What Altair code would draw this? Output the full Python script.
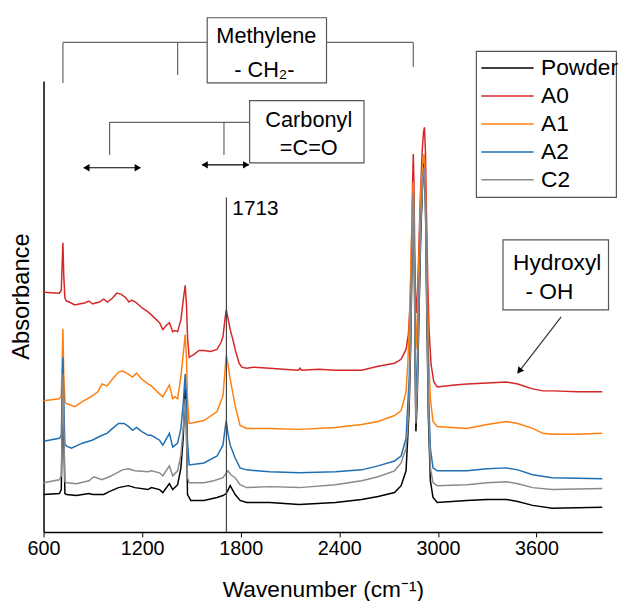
import altair as alt
import pandas as pd

FONT = "Liberation Sans"

SERIES = ["Powder", "A0", "A1", "A2", "C2"]
COLORS = ["#000000", "#d62728", "#ff7f0e", "#1f6fb4", "#8a8a8a"]

# ---- spectra (wavenumber cm-1, absorbance in arbitrary offset units) ----
WN_A0 = [600, 696, 708, 713, 718, 723, 730, 740, 756, 790, 816, 850, 876, 900, 916, 940, 966, 990,
         1020, 1046, 1070, 1096, 1120, 1136, 1160, 1180, 1200, 1236, 1256, 1306, 1326, 1345, 1366,
         1386, 1400, 1416, 1436, 1450, 1462, 1470, 1476, 1486, 1516, 1546, 1576, 1616, 1656, 1680,
         1692, 1705, 1712, 1722, 1736, 1752, 1766, 1790, 1806, 1836, 1876, 1976, 2060, 2150, 2160,
         2170, 2276, 2376, 2536, 2636, 2736, 2776, 2806, 2820, 2832, 2840, 2846, 2850, 2854, 2858,
         2863, 2868, 2874, 2882, 2892, 2904, 2912, 2918, 2924, 2930, 2938, 2946, 2958, 2975, 2996,
         3100, 3176, 3300, 3416, 3486, 3540, 3576, 3640, 3696, 3850, 4000]
ABS_A0 = [2.43, 2.42, 2.45, 2.70, 2.93, 2.60, 2.37, 2.34, 2.33, 2.30, 2.31, 2.32, 2.34, 2.31, 2.32, 2.33, 2.36, 2.33,
          2.37, 2.42, 2.41, 2.38, 2.33, 2.35, 2.33, 2.30, 2.27, 2.23, 2.20, 2.12, 2.05, 2.09, 2.12,
          2.03, 2.04, 2.03, 2.15, 2.35, 2.50, 2.30, 1.98, 1.77, 1.80, 1.84, 1.84, 1.83, 1.85, 1.92,
          1.98, 2.17, 2.25, 2.17, 2.05, 1.95, 1.85, 1.71, 1.67, 1.66, 1.67, 1.66, 1.65, 1.64, 1.66,
          1.64, 1.65, 1.64, 1.64, 1.68, 1.71, 1.75, 1.85, 2.00, 2.35, 2.95, 3.55, 3.83, 3.55, 2.95,
          2.45, 2.22, 2.35, 2.75, 3.35, 3.85, 4.05, 4.10, 3.85, 3.25, 2.55, 2.05, 1.70, 1.52, 1.47,
          1.49, 1.50, 1.51, 1.52, 1.50, 1.47, 1.45, 1.43, 1.43, 1.42, 1.42]

WN_A1 = [600, 696, 708, 713, 718, 723, 730, 740, 790, 836, 866, 896, 930, 956, 986, 1020, 1056, 1080,
         1116, 1142, 1166, 1196, 1236, 1256, 1306, 1326, 1366, 1386, 1400, 1416, 1436, 1450, 1462,
         1470, 1476, 1486, 1516, 1576, 1656, 1692, 1705, 1712, 1722, 1736, 1766, 1796, 1836, 1976,
         2156, 2376, 2536, 2636, 2736, 2776, 2806, 2816, 2825, 2835, 2843, 2850, 2855, 2860, 2866,
         2874, 2884, 2896, 2908, 2916, 2924, 2932, 2942, 2954, 2970, 2996, 3176, 3300, 3416, 3486,
         3576, 3640, 3696, 3850, 4000]
ABS_A1 = [1.33, 1.35, 1.38, 1.70, 2.06, 1.60, 1.32, 1.30, 1.27, 1.32, 1.35, 1.38, 1.42, 1.50, 1.48, 1.55, 1.62, 1.63,
          1.60, 1.57, 1.61, 1.55, 1.50, 1.48, 1.40, 1.37, 1.49, 1.35, 1.37, 1.35, 1.58, 1.80, 2.00,
          1.75, 1.35, 1.10, 1.11, 1.13, 1.22, 1.38, 1.65, 1.79, 1.70, 1.55, 1.28, 1.08, 1.05, 1.05,
          1.04, 1.06, 1.09, 1.12, 1.18, 1.23, 1.42, 1.68, 2.05, 2.65, 3.25, 3.55, 3.15, 2.35, 1.85,
          2.15, 2.75, 3.45, 3.75, 3.83, 3.55, 2.75, 1.85, 1.35, 1.12, 1.07, 1.05, 1.09, 1.12, 1.10,
          1.05, 1.00, 0.99, 0.99, 1.00]

WN_A2 = [600, 696, 708, 713, 718, 723, 730, 740, 770, 836, 896, 956, 986, 1020, 1056, 1090, 1116, 1142,
         1166, 1196, 1236, 1256, 1306, 1326, 1366, 1386, 1416, 1436, 1450, 1462, 1470, 1476, 1486,
         1576, 1656, 1692, 1705, 1712, 1722, 1736, 1766, 1796, 1836, 1976, 2156, 2376, 2536, 2636,
         2736, 2776, 2806, 2816, 2825, 2835, 2843, 2850, 2856, 2861, 2866, 2874, 2884, 2896, 2908,
         2916, 2924, 2932, 2942, 2954, 2970, 2996, 3176, 3300, 3416, 3486, 3576, 3696, 4000]
ABS_A2 = [0.92, 0.95, 0.98, 1.35, 1.77, 1.30, 0.89, 0.87, 0.85, 0.90, 0.93, 0.98, 1.00, 1.05, 1.10, 1.10, 1.07, 1.03,
          1.06, 1.02, 0.98, 0.98, 0.93, 0.88, 1.00, 0.86, 0.90, 1.05, 1.30, 1.60, 1.35, 0.92, 0.68,
          0.70, 0.77, 0.88, 1.05, 1.13, 1.00, 0.88, 0.75, 0.65, 0.63, 0.61, 0.60, 0.61, 0.63, 0.67,
          0.72, 0.77, 0.95, 1.28, 1.55, 2.15, 2.95, 3.40, 2.85, 2.05, 1.35, 1.65, 2.35, 3.15, 3.55,
          3.65, 3.35, 2.45, 1.45, 0.85, 0.65, 0.62, 0.62, 0.64, 0.65, 0.63, 0.58, 0.55, 0.54]

WN_C2 = [600, 696, 708, 713, 718, 723, 730, 740, 800, 876, 906, 956, 1000, 1036, 1080, 1116, 1156, 1236,
         1256, 1306, 1326, 1366, 1386, 1416, 1436, 1450, 1462, 1470, 1476, 1486, 1576, 1636, 1692,
         1722, 1740, 1766, 1796, 1836, 1976, 2156, 2376, 2536, 2636, 2736, 2776, 2806, 2816, 2825,
         2835, 2843, 2850, 2856, 2861, 2866, 2874, 2884, 2896, 2908, 2916, 2924, 2932, 2942, 2954,
         2970, 2996, 3176, 3300, 3416, 3486, 3576, 3696, 4000]
ABS_C2 = [0.50, 0.53, 0.57, 1.05, 1.60, 1.10, 0.51, 0.50, 0.49, 0.52, 0.56, 0.53, 0.56, 0.59, 0.63, 0.64, 0.62, 0.61,
          0.62, 0.60, 0.57, 0.67, 0.57, 0.62, 0.78, 1.05, 1.35, 0.95, 0.55, 0.50, 0.50, 0.52, 0.55,
          0.62, 0.58, 0.55, 0.48, 0.45, 0.46, 0.45, 0.48, 0.52, 0.56, 0.62, 0.70, 0.85, 1.05, 1.35,
          2.05, 2.85, 3.45, 2.85, 1.85, 1.10, 1.45, 2.25, 3.15, 3.60, 3.70, 3.35, 2.35, 1.25, 0.65,
          0.50, 0.47, 0.48, 0.50, 0.51, 0.49, 0.45, 0.43, 0.44]

WN_PW = [600, 696, 708, 713, 718, 723, 730, 740, 800, 876, 900, 966, 1000, 1056, 1116, 1156, 1236, 1256,
         1306, 1326, 1366, 1386, 1416, 1436, 1450, 1462, 1470, 1476, 1496, 1576, 1656, 1692, 1712,
         1736, 1766, 1796, 1836, 1976, 2156, 2376, 2536, 2636, 2736, 2776, 2806, 2816, 2825, 2835,
         2843, 2850, 2856, 2861, 2866, 2874, 2884, 2896, 2908, 2916, 2924, 2932, 2942, 2954, 2970,
         2996, 3176, 3300, 3416, 3486, 3576, 3696, 4000]
ABS_PW = [0.38, 0.39, 0.43, 0.95, 1.73, 1.05, 0.39, 0.38, 0.37, 0.39, 0.38, 0.38, 0.41, 0.45, 0.47, 0.45, 0.43, 0.45,
          0.43, 0.40, 0.49, 0.43, 0.48, 0.65, 0.95, 1.45, 1.05, 0.38, 0.32, 0.32, 0.35, 0.37, 0.39,
          0.47, 0.38, 0.32, 0.30, 0.30, 0.28, 0.30, 0.33, 0.36, 0.40, 0.47, 0.62, 0.95, 1.25, 1.95,
          2.85, 3.50, 2.85, 1.75, 1.02, 1.35, 2.15, 3.05, 3.60, 3.75, 3.35, 2.25, 1.15, 0.52, 0.35,
          0.30, 0.32, 0.33, 0.33, 0.31, 0.27, 0.24, 0.25]

X_TICKS = [600, 1200, 1800, 2400, 3000, 3600]
X_TITLE = "Wavenumber (cm\u207b\u00b9)"
Y_TITLE = "Absorbance"

# ---- annotations (data coordinates) ----
SEG_X1 = [718, 2322, 718, 1416, 2850, 1002, 1002, 1698, 1713, 846, 1566, 3750]
SEG_X2 = [1596, 2850, 718, 1416, 2850, 1854, 1002, 1698, 1713, 1188, 1848, 3486]
SEG_Y1 = [4.96, 4.96, 4.96, 4.96, 4.96, 4.15, 4.15, 4.15, 3.39, 3.69, 3.72, 2.18]
SEG_Y2 = [4.96, 4.96, 4.55, 4.63, 4.71, 4.15, 3.82, 3.82, 0.00, 3.69, 3.72, 1.61]
SEG_C = ["#666666"] * 8 + ["#444444", "#000000", "#000000", "#333333"]

# boxes: Methylene, Carbonyl, Hydroxyl, legend frame
BOX_X1 = [1596, 1854, 3396, 3234]
BOX_X2 = [2322, 2550, 4038, 4086]
BOX_Y1 = [4.55, 3.74, 2.25, 3.39]
BOX_Y2 = [5.21, 4.37, 2.96, 4.87]

TXT = ["Methylene", "- CH\u2082-", "Carbonyl", "=C=O", "Hydroxyl", "- OH"]
TXT_X = [1956, 1944, 2214, 2214, 3726, 3678]
TXT_Y = [5.02, 4.68, 4.17, 3.89, 2.72, 2.43]
TXT_S = [22, 22, 22, 22, 23, 23]

HEAD_X = [867, 1167, 1587, 1827, 3499]
HEAD_Y = [3.69, 3.69, 3.72, 3.72, 1.64]
HEAD_A = [270, 90, 270, 90, 218]

rows = []
for name, wn, ab in [("Powder", WN_PW, ABS_PW), ("A0", WN_A0, ABS_A0), ("A1", WN_A1, ABS_A1),
                     ("A2", WN_A2, ABS_A2), ("C2", WN_C2, ABS_C2)]:
    for w, a in zip(wn, ab):
        rows.append({"series": name, "wn": w, "abs": a})
spec = pd.DataFrame(rows)

segs = pd.DataFrame({"x1": SEG_X1, "x2": SEG_X2, "y1": SEG_Y1, "y2": SEG_Y2, "c": SEG_C})
boxes = pd.DataFrame({"x1": BOX_X1, "x2": BOX_X2, "y1": BOX_Y1, "y2": BOX_Y2})
texts = pd.DataFrame({"t": TXT, "x": TXT_X, "y": TXT_Y, "s": TXT_S})
heads = pd.DataFrame({"x": HEAD_X, "y": HEAD_Y, "a": HEAD_A})
label1713 = pd.DataFrame({"t": ["1713"], "x": [1713], "y": [3.27]})

xs = alt.Scale(domain=[600, 4000], nice=False, zero=False)
ys = alt.Scale(domain=[0, 4.57], nice=False, zero=False)


def X(field):
    return alt.X(field, scale=xs, title=X_TITLE)


def Y(field):
    return alt.Y(field, scale=ys, title=Y_TITLE)


lines = alt.Chart(spec).mark_line(strokeWidth=1.5).encode(
    x=alt.X("wn:Q", scale=xs, title=X_TITLE,
            axis=alt.Axis(values=X_TICKS, format="d", grid=False,
                          tickSize=5, tickColor="black", domainColor="black", domainWidth=1.5,
                          labelFontSize=20, labelColor="black", labelPadding=2, titleFontSize=23,
                          titleFontWeight="normal", titleColor="black", titlePadding=20,
                          labelFlush=False)),
    y=alt.Y("abs:Q", scale=ys, title=Y_TITLE,
            axis=alt.Axis(labels=False, ticks=False, grid=False, domainColor="black", domainWidth=1.5,
                          titleFontSize=24, titleFontWeight="normal",
                          titleColor="black", titlePadding=10, titleY=218)),
    color=alt.Color("series:N", sort=SERIES, scale=alt.Scale(domain=SERIES, range=COLORS),
                    legend=alt.Legend(title=None, orient="none", legendX=456, legendY=-27,
                                      symbolType="M-2,0H2", symbolSize=702, symbolStrokeWidth=1.5,
                                      labelFontSize=23, labelOffset=20, padding=0, rowPadding=2.3,
                                      labelColor="black")),
    detail="series:N",
)

rects = alt.Chart(boxes).mark_rect(fill="white", stroke="#555555", strokeWidth=1.2).encode(
    x=X("x1:Q"), x2="x2:Q", y=Y("y1:Q"), y2="y2:Q",
)

rules = alt.Chart(segs).mark_rule(strokeWidth=1.2).encode(
    x=X("x1:Q"), x2="x2:Q", y=Y("y1:Q"), y2="y2:Q",
    color=alt.Color("c:N", scale=None),
)

labels = alt.Chart(texts).mark_text(align="center", baseline="middle", color="black").encode(
    x=X("x:Q"), y=Y("y:Q"),
    text="t:N",
    size=alt.Size("s:Q", scale=None, legend=None),
)

lab1713 = alt.Chart(label1713).mark_text(align="left", baseline="middle", dx=6, fontSize=21,
                                         color="black").encode(
    x=X("x:Q"), y=Y("y:Q"), text="t:N",
)

arrowheads = alt.Chart(heads).mark_point(shape="triangle", filled=True, size=55, opacity=1,
                                         color="black").encode(
    x=X("x:Q"), y=Y("y:Q"),
    angle=alt.Angle("a:Q", scale=None),
)

chart = alt.layer(rects, lines, rules, labels, lab1713, arrowheads).properties(
    width=566, height=457,
    autosize=alt.AutoSizeParams(type="none"),
    padding={"left": 36, "top": 70, "right": 20, "bottom": 66},
    background="white",
).configure(font=FONT).configure_view(strokeWidth=0)

chart.save("out.html", embed_options={"renderer": "svg", "actions": False})
